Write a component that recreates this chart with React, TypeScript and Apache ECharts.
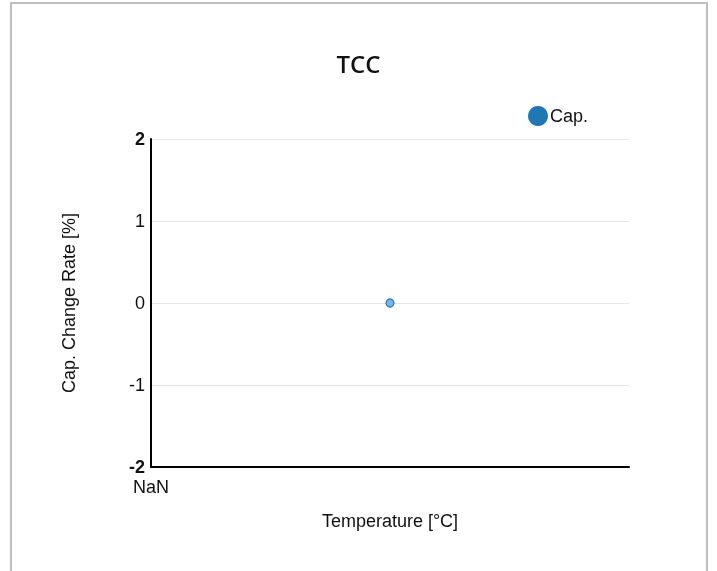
import React, { useEffect, useRef } from "react";
import * as echarts from "echarts";

const titleText = "TCC";
const seriesName = "Cap.";
const xAxisName = "Temperature [°C]";
const yAxisName = "Cap. Change Rate [%]";
const xRange = [0, 50];
const yTicks = [-2, -1, 0, 1, 2];
const capPoints: [number, number][] = [[25, 0]];

export default function App() {
  const ref = useRef<HTMLDivElement>(null);
  useEffect(() => {
    if (!ref.current) return;
    const chart = echarts.init(ref.current, undefined, { renderer: "svg" });
    const font = "Liberation Sans";
    chart.setOption({
      animation: false,
      title: {
        text: titleText,
        left: "center",
        top: 46,
        textStyle: { fontFamily: "Open Sans", fontSize: 24, fontWeight: 600, color: "#111" },
      },
      legend: {
        left: 523,
        top: 101,
        icon: "circle",
        itemWidth: 20,
        itemHeight: 20,
        itemGap: 4,
        data: [{ name: seriesName, itemStyle: { color: "#1f77b4", borderWidth: 0, opacity: 1 } }],
        textStyle: { fontFamily: font, fontSize: 18, color: "#111", padding: [0, 0, 0, -3] },
      },
      grid: { left: 151, right: 88, top: 139, bottom: 104, containLabel: false },
      xAxis: {
        type: "value",
        min: xRange[0],
        max: xRange[1],
        interval: xRange[1] - xRange[0],
        name: xAxisName,
        nameLocation: "middle",
        nameGap: 45,
        nameTextStyle: { fontFamily: font, fontSize: 18, color: "#111" },
        axisLine: { show: true, onZero: false, lineStyle: { color: "#000", width: 2 } },
        axisTick: { show: false },
        splitLine: { show: false },
        axisLabel: {
          fontFamily: font,
          fontSize: 18,
          color: "#111",
          margin: 11,
          showMaxLabel: false,
          formatter: (v: number) => (v === xRange[0] ? "NaN" : ""),
        },
      },
      yAxis: {
        type: "value",
        min: yTicks[0],
        max: yTicks[yTicks.length - 1],
        interval: 1,
        name: yAxisName,
        nameLocation: "middle",
        nameGap: 73,
        nameTextStyle: { fontFamily: font, fontSize: 18, color: "#111" },
        axisLine: { show: true, onZero: false, lineStyle: { color: "#000", width: 2 } },
        axisTick: { show: false },
        splitLine: { show: true, lineStyle: { color: "#e6e6e6", width: 1 } },
        axisLabel: {
          fontFamily: font,
          fontSize: 18,
          color: "#111",
          margin: 6,
          formatter: (v: number) =>
            v === yTicks[0] || v === yTicks[yTicks.length - 1] ? `{b|${v}}` : `${v}`,
          rich: { b: { fontFamily: font, fontSize: 18, fontWeight: "bold", color: "#111" } },
        },
      },
      series: [
        {
          name: seriesName,
          type: "scatter",
          data: capPoints,
          symbol: "circle",
          symbolSize: 8,
          itemStyle: { color: "#7db4e0", borderColor: "#1f77b4", borderWidth: 1.2, opacity: 1 },
        },
      ],
    });
    return () => chart.dispose();
  }, []);
  return (
    <>
      <div
        style={{
          position: "fixed",
          left: 10,
          top: 2,
          width: 698,
          height: 640,
          border: "2px solid #bfbfbf",
          boxSizing: "border-box",
        }}
      />
      <div ref={ref} style={{ position: "fixed", left: 0, top: 0, width: 717, height: 571 }} />
    </>
  );
}
